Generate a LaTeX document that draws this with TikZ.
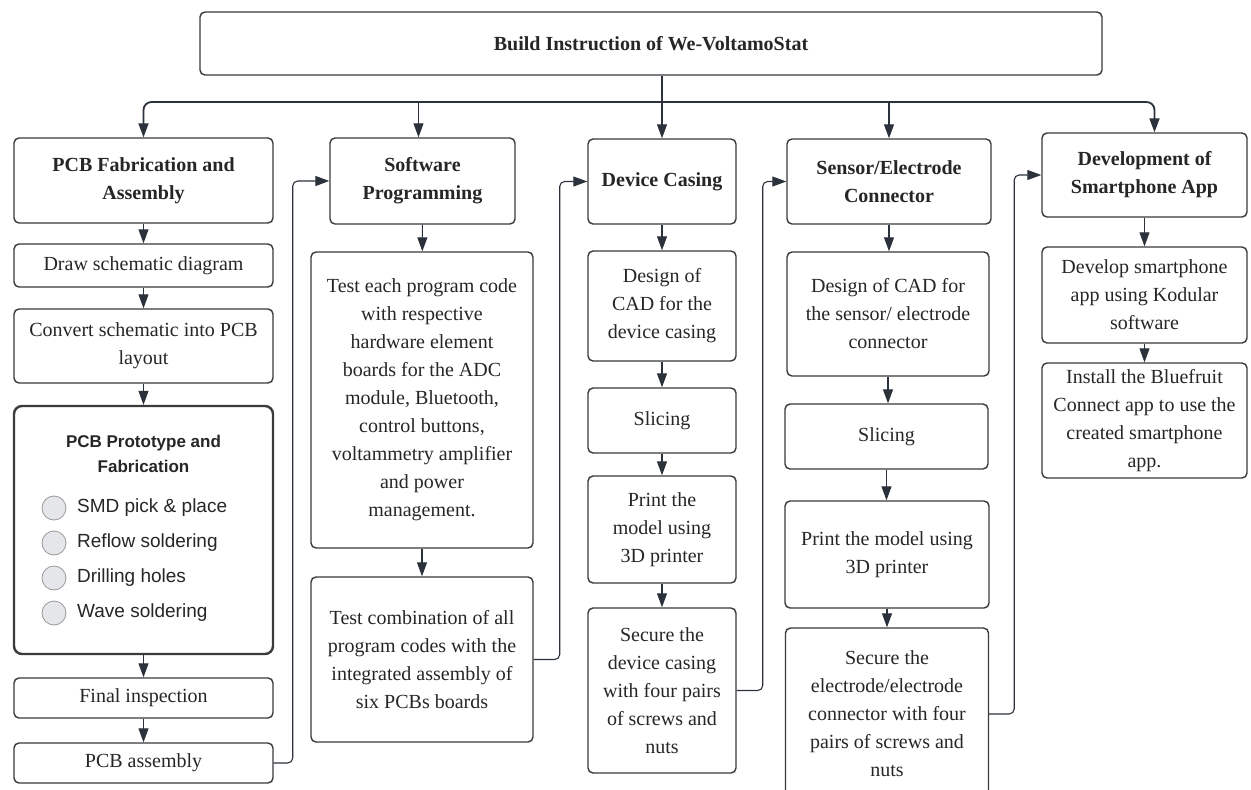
\documentclass[tikz,border=0pt]{standalone}
\usepackage{fontspec}
\setmainfont{Liberation Serif}
\setsansfont{Liberation Sans}
\usetikzlibrary{arrows.meta,calc}
\definecolor{boxc}{HTML}{3A3A3A}
\definecolor{arrc}{HTML}{2B323C}
\definecolor{dotfill}{HTML}{E4E6EA}
\definecolor{dotline}{HTML}{9A9A9A}
\begin{document}
\begin{tikzpicture}[x=1pt,y=-1pt,
  box/.style={draw=boxc, line width=1.4pt, rounded corners=5pt, align=center, inner sep=2pt,
    font=\fontsize{20}{28}\selectfont, text=black!85},
  hbox/.style={box, font=\bfseries\fontsize{20}{28}\selectfont},
  arr/.style={draw=arrc, line width=1.1pt, -{Triangle[length=14pt,width=10pt]}},
  conn/.style={arr, rounded corners=5pt},
  busline/.style={arr, line width=1.8pt, rounded corners=8pt},
  dot/.style={circle, draw=dotline, fill=dotfill, line width=0.8pt, minimum size=24pt, inner sep=0pt},
  item/.style={anchor=west, font=\sffamily\fontsize{19}{23}\selectfont, inner sep=0pt, text=black!85}]
\clip (0,0) rectangle (1251,790);
\useasboundingbox (0,0) rectangle (1251,790);
\fill[white] (0,0) rectangle (1251,790);

% title
\node[hbox, minimum width=902pt, minimum height=63pt] (title) at (651,43.5) {Build Instruction of We-VoltamoStat};

% column 1
\node[hbox, minimum width=259pt, minimum height=85pt] (pcbh) at (143.5,180.5) {PCB Fabrication and\\Assembly};
\node[box, minimum width=259pt, minimum height=43pt] (draw) at (143.5,265.5) {Draw schematic diagram};
\node[box, minimum width=259pt, minimum height=74pt] (conv) at (143.5,346) {Convert schematic into PCB\\layout};
\node[box, line width=2.4pt, rounded corners=8pt, minimum width=259pt, minimum height=248pt] (proto) at (143.5,530) {};
\node[align=center, font=\sffamily\bfseries\fontsize{17}{25}\selectfont, text=black!85] (protoh) at (143.5,454) {PCB Prototype and\\Fabrication};
\node[dot] (c1) at (54,508) {};
\node[dot] (c2) at (54,543) {};
\node[dot] (c3) at (54,578) {};
\node[dot] (c4) at (54,613) {};
\node[item] (l1) at (77,508) {SMD pick \& place};
\node[item] (l2) at (77,543) {Reflow soldering};
\node[item] (l3) at (77,578) {Drilling holes};
\node[item] (l4) at (77,613) {Wave soldering};
\node[box, minimum width=259pt, minimum height=40pt] (final) at (143.5,698) {Final inspection};
\node[box, minimum width=259pt, minimum height=40pt] (asm) at (143.5,763) {PCB assembly};

% column 2
\node[hbox, minimum width=185pt, minimum height=86pt] (swh) at (422.5,181) {Software\\Programming};
\node[box, minimum width=222pt, minimum height=296pt] (t1) at (422,400) {Test each program code\\with respective\\hardware element\\boards for the ADC\\module, Bluetooth,\\control buttons,\\voltammetry amplifier\\and power\\management.};
\node[box, minimum width=222pt, minimum height=165pt] (t2) at (422,659.5) {Test combination of all\\program codes with the\\integrated assembly of\\six PCBs boards};

% column 3
\node[hbox, minimum width=148pt, minimum height=85pt] (dch) at (662,181.5) {Device Casing};
\node[box, minimum width=148pt, minimum height=110pt] (d1) at (662,306) {Design of\\CAD for the\\device casing};
\node[box, minimum width=148pt, minimum height=65pt] (d2) at (662,420.5) {Slicing};
\node[box, minimum width=148pt, minimum height=107pt] (d3) at (662,529.5) {Print the\\model using\\3D printer};
\node[box, minimum width=148pt, minimum height=165pt] (d4) at (662,690.5) {Secure the\\device casing\\with four pairs\\of screws and\\nuts};

% column 4
\node[hbox, minimum width=204pt, minimum height=85pt] (sh) at (889,181.5) {Sensor/Electrode\\Connector};
\node[box, minimum width=202pt, minimum height=124pt] (s1) at (888,314) {Design of CAD for\\the sensor/ electrode\\connector};
\node[box, minimum width=203pt, minimum height=65pt] (s2) at (886.5,436.5) {Slicing};
\node[box, minimum width=204pt, minimum height=107pt] (s3) at (887,554.5) {Print the model using\\3D printer};
\node[box, minimum width=203pt, minimum height=172pt] (s4) at (887,714) {Secure the\\electrode/electrode\\connector with four\\pairs of screws and\\nuts};

% column 5
\node[hbox, minimum width=205pt, minimum height=84pt] (ah) at (1144.5,175) {Development of\\Smartphone App};
\node[box, minimum width=205pt, minimum height=96pt] (a1) at (1144.5,295) {Develop smartphone\\app using Kodular\\software};
\node[box, minimum width=205pt, minimum height=115pt] (a2) at (1144.5,420.5) {Install the Bluefruit\\Connect app to use the\\created smartphone\\app.};

% bus
\coordinate (bus) at (662,102);
\draw[busline] (bus) -| (pcbh.north);
\draw[busline] (bus) -| ($(ah.north)+(10,0)$);
\draw[arr] ($(bus -| swh.north)+(-4,0)$) -- ($(swh.north)+(-4,0)$);
\draw[arr] (bus -| sh.north) -- (sh.north);
\draw[arr] (title.south -| dch.north) -- (dch.north);

% vertical flows
\draw[arr] (pcbh) -- (draw);
\draw[arr] (draw) -- (conv);
\draw[arr] (conv) -- (proto);
\draw[arr] (proto) -- (final);
\draw[arr] (final) -- (asm);
\draw[arr] (swh) -- (t1);
\draw[arr] (t1) -- (t2);
\draw[arr] (dch) -- (d1);
\draw[arr] (d1) -- (d2);
\draw[arr] (d2) -- (d3);
\draw[arr] (d3) -- (d4);
\draw[arr] (sh.south) -- (sh.south |- s1.north);
\draw[arr] (s1.south) -- (s1.south |- s2.north);
\draw[arr] (s2.south) -- (s2.south |- s3.north);
\draw[arr] (s3.south) -- (s3.south |- s4.north);
\draw[arr] (ah) -- (a1);
\draw[arr] (a1) -- (a2);

% cross-column connectors
\draw[conn] (asm.east) -- ++(19,0) |- (swh.west);
\draw[conn] (t2.east) -- ++(26,0) |- (dch.west);
\draw[conn] (d4.east) -- ++(26,0) |- (sh.west);
\draw[conn] (s4.east) -- ++(25,0) |- (ah.west);
\end{tikzpicture}
\end{document}
